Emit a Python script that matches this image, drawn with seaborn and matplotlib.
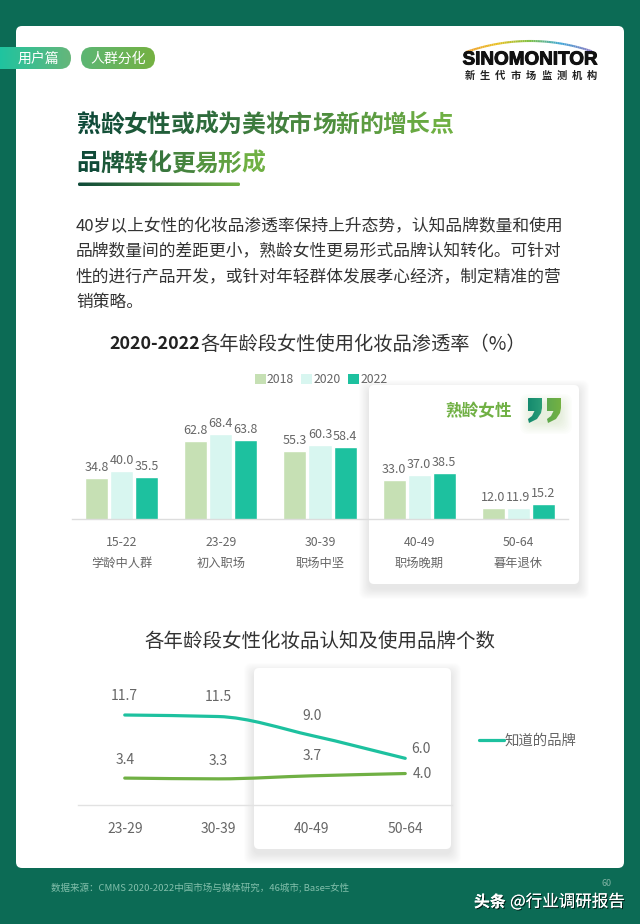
import numpy as np
import pandas as pd
import matplotlib
matplotlib.use('Agg')
import matplotlib.pyplot as plt
import matplotlib.patheffects as pe
import seaborn as sns
from matplotlib.colors import LinearSegmentedColormap, to_rgb
from matplotlib.lines import Line2D
from matplotlib.patches import FancyBboxPatch, PathPatch, Polygon
from matplotlib.path import Path

# bar chart data
barAges = ['15-22', '23-29', '30-39', '40-49', '50-64']
barStages = ['学龄中人群', '初入职场', '职场中坚', '职场晚期', '暮年退休']
years = ['2018', '2020', '2022']
rate2018 = [34.8, 62.8, 55.3, 33.0, 12.0]
rate2020 = [40.0, 68.4, 60.3, 37.0, 11.9]
rate2022 = [35.5, 63.8, 58.4, 38.5, 15.2]

# line chart data
lineAges = ['23-29', '30-39', '40-49', '50-64']
knownBrands = [11.7, 11.5, 9.0, 6.0]
usedBrands = [3.4, 3.3, 3.7, 4.0]

titleLines = ['熟龄女性或成为美妆市场新的增长点', '品牌转化更易形成']
bodyLines = [
    '40岁以上女性的化妆品渗透率保持上升态势，认知品牌数量和使用',
    '品牌数量间的差距更小，熟龄女性更易形式品牌认知转化。可针对',
    '性的进行产品开发，或针对年轻群体发展孝心经济，制定精准的营',
    '销策略。',
]

GREEN_BG = '#0c6b55'
TEAL = '#1dc19f'
GREEN = '#70b044'
GRAY = '#666666'
W, H = 640, 924

sns.set_theme(style='white')
plt.rcParams['font.family'] = ['Noto Sans CJK SC', 'DejaVu Sans']

fig = plt.figure(figsize=(6.4, 9.24), dpi=100, facecolor=GREEN_BG)

# full page axes in pixel coordinates, for the page furniture
bg = fig.add_axes([0, 0, 1, 1], zorder=0)
bg.set_xlim(0, W)
bg.set_ylim(H, 0)
bg.axis('off')


def rounded(x0, y0, x1, y1, radius, **kw):
    return FancyBboxPatch((x0 + radius, y0 + radius), x1 - x0 - 2 * radius, y1 - y0 - 2 * radius,
                          boxstyle=f'round,pad={radius},rounding_size={radius}', **kw)


def gradient_fill(patch, c1, c2, extent, zorder=3):
    cmap = LinearSegmentedColormap.from_list('g', [c1, c2])
    bg.add_patch(patch)
    patch.set_facecolor('none')
    patch.set_edgecolor('none')
    im = bg.imshow(np.linspace(0, 1, 128).reshape(1, -1), cmap=cmap, extent=extent,
                   aspect='auto', zorder=zorder)
    im.set_clip_path(patch)
    bg.set_xlim(0, W)
    bg.set_ylim(H, 0)


def shadow_panel(x0, y0, x1, y1):
    for i in range(12):
        grow = 10 - i * 0.85
        bg.add_patch(rounded(x0 - grow, y0 - grow + 5, x1 + grow, y1 + grow + 5, 7,
                             fc='black', ec='none', alpha=0.009, zorder=1))
    bg.add_patch(rounded(x0, y0, x1, y1, 5, fc='white', ec='none', zorder=1.5))


def mix(c1, c2, t):
    a, b = np.array(to_rgb(c1)), np.array(to_rgb(c2))
    return tuple(a + (b - a) * t)


def soft_tangents(xy):
    # slope at each point, flat where the neighbouring segments disagree
    d = np.diff(xy[:, 1]) / np.diff(xy[:, 0])
    m = [d[0]]
    for a, b in zip(d[:-1], d[1:]):
        m.append(0 if a * b <= 0 else 2 * a * b / (a + b))
    m.append(d[-1])
    return m


# white card
bg.add_patch(rounded(16, 26, 624, 868, 6, fc='white', ec='none', zorder=0.5))

# section tags
gradient_fill(rounded(-20, 47, 71, 69, 11), '#1fc4a0', '#66b67a', (0, 71, 69, 47))
gradient_fill(rounded(81, 47, 155, 69, 11), '#5cb674', '#75b142', (81, 155, 69, 47))
bg.text(38, 58.5, '用户篇', color='white', fontsize=10, ha='center', va='center', zorder=4)
bg.text(118, 58.5, '人群分化', color='white', fontsize=10, ha='center', va='center', zorder=4)

# logo
arcX = np.linspace(466, 592, 70)
arcY = 41 + 11 * ((arcX - 530) / 64) ** 2
arcCmap = LinearSegmentedColormap.from_list('arc', ['#f0a030', '#e8c020', '#80c040', '#40a8d8', '#8878c0'])
for i in range(len(arcX) - 1):
    bg.plot(arcX[i:i + 2], arcY[i:i + 2], color=arcCmap(i / 68), lw=1.5, solid_capstyle='butt', zorder=3)
logoText = bg.text(530, 60, 'SINOMONITOR', color='#111111', fontsize=13.6, fontweight='bold', ha='center',
                   va='center', family=['Liberation Sans', 'DejaVu Sans'])
logoText.set_path_effects([pe.withStroke(linewidth=0.7, foreground='#111111')])
for i, ch in enumerate('新生代市场监测机构'):
    bg.text(470 + i * 15.25, 76, ch, color='#222222', fontsize=7.4, fontweight='bold', ha='center', va='center')

# gradient headline, one colour per character
for lineNo, line in enumerate(titleLines):
    n = len(line)
    for i, ch in enumerate(line):
        bg.text(76.5 + 23.55 * i, 124.5 + 39 * lineNo, ch, fontsize=17.2, fontweight='bold', ha='left', va='center',
                color=mix('#0f4a38', '#6fb043', i / max(n - 1, 7)), zorder=4)
gradient_fill(rounded(78, 182.5, 240, 186, 1.5), '#0f4a38', '#70b044', (78, 240, 186, 182))

for i, line in enumerate(bodyLines):
    bg.text(76, 227 + 25 * i, line, fontsize=12.05, color='#333333', ha='left', va='center')

# chart titles
bg.text(200, 344, '2020-2022', fontsize=12.9, fontweight='bold', color='#222222', ha='right', va='center')
bg.text(200, 344, '各年龄段女性使用化妆品渗透率（%）', fontsize=13.85, color='#333333', ha='left', va='center')
bg.text(320, 641, '各年龄段女性化妆品认知及使用品牌个数', fontsize=14, color='#333333', ha='center', va='center')

# highlight panels
shadow_panel(369, 385, 579, 584)
shadow_panel(254, 668, 451, 849)
bg.text(479, 411, '熟龄女性', fontsize=12, fontweight='bold', color=GREEN, ha='center', va='center', zorder=4)

# quote marks
for i in range(8):
    grow = 12 - i * 1.4
    bg.add_patch(rounded(532 - grow, 404 - grow + 2, 560 + grow, 420 + grow + 2, 8,
                         fc=GREEN, ec='none', alpha=0.02, zorder=2))
for x0, c1, c2 in [(528, '#148a6e', '#2a9d78'), (547, '#5fa94e', '#74b142')]:
    pts = [(x0, 398), (x0 + 14, 398), (x0 + 14, 408), (x0 + 13, 413), (x0 + 9, 419), (x0 + 1, 423), (x0, 419),
           (x0 + 4, 416), (x0 + 6.5, 411), (x0, 411)]
    gradient_fill(Polygon(pts, closed=True), c1, c2, (x0, x0 + 14, 423, 398))

# footer
bg.text(51, 888, '数据来源：CMMS 2020-2022中国市场与媒体研究，46城市; Base=女性', fontsize=6.85,
        color='#82bfab', ha='left', va='center')
bg.text(607, 883, '60', fontsize=6.5, color='#7fb3a3', ha='center', va='center')
markShadow = [pe.withSimplePatchShadow(offset=(0.8, -0.8), shadow_rgbFace='black', alpha=0.7), pe.Normal()]
bg.text(474, 902, '头条', fontsize=11.4, fontweight='bold', color='white', ha='left', va='center', zorder=4,
        path_effects=markShadow)
bg.text(510, 902, '@行业调研报告', fontsize=11.9, color='white', ha='left', va='center', zorder=4,
        path_effects=markShadow)


def axes_px(x0, y0, x1, y1):
    return fig.add_axes([x0 / W, 1 - y1 / H, (x1 - x0) / W, (y1 - y0) / H], zorder=2, facecolor='none')


# bar chart
dfBar = pd.DataFrame({'age': barAges, '2018': rate2018, '2020': rate2020, '2022': rate2022})
dfBar = dfBar.melt(id_vars='age', var_name='year', value_name='rate')

ax1 = axes_px(72, 389, 568, 519)
sns.barplot(data=dfBar, x='age', y='rate', hue='year', hue_order=years, ax=ax1, width=0.757, gap=0.08,
            palette=['#c6e0b4', '#d8f6f0', TEAL], saturation=1, legend=False)
ax1.set_xlim(-0.5, 4.5)
ax1.set_ylim(3.6, 102.8)
ax1.set_xlabel('')
ax1.set_ylabel('')
ax1.set_yticks([])
ax1.set_xticks(range(len(barAges)))
ax1.set_xticklabels([f'{a}\n{s}' for a, s in zip(barAges, barStages)], fontsize=8.8, color=GRAY, linespacing=1.85)
ax1.tick_params(axis='x', length=0, pad=12)
sns.despine(ax=ax1, left=True)
ax1.spines['bottom'].set_color('#dddddd')
ax1.spines['bottom'].set_linewidth(1)
for cont in ax1.containers:
    ax1.bar_label(cont, fmt='%.1f', fontsize=9, color=GRAY, padding=3)

barHandles = [plt.Rectangle((0, 0), 1, 1, fc=c, ec='none') for c in ['#c6e0b4', '#d8f6f0', TEAL]]
fig.legend(barHandles, years, loc='center', bbox_to_anchor=(321 / W, 1 - 379.5 / H), ncol=3, frameon=False,
           fontsize=8.8, labelcolor=GRAY, handlelength=0.9, handleheight=0.9, handletextpad=0.1,
           columnspacing=0.6, borderpad=0)

# line chart
dfLine = pd.DataFrame({'age': lineAges, '知道的品牌': knownBrands, '使用的品牌': usedBrands})
dfLine = dfLine.melt(id_vars='age', var_name='kind', value_name='count')

ax2 = axes_px(78, 690, 452, 805)
sns.lineplot(data=dfLine, x='age', y='count', hue='kind', hue_order=['知道的品牌', '使用的品牌'], ax=ax2,
             palette=[TEAL, GREEN], sort=False, errorbar=None, legend=False, lw=2.3)
ax2.set_xlim(-0.5, 3.5)
ax2.set_ylim(-0.14, 14.99)
ax2.set_xlabel('')
ax2.set_ylabel('')
ax2.set_yticks([])
ax2.set_xticks(range(len(lineAges)))
ax2.set_xticklabels(lineAges, fontsize=10, color=GRAY)
ax2.tick_params(axis='x', length=0, pad=12)
sns.despine(ax=ax2, left=True)
ax2.spines['bottom'].set_color('#e2e2e2')
ax2.spines['bottom'].set_linewidth(1)

# round the seaborn lines off with a curve through the same points
for line in list(ax2.lines):
    xy = line.get_xydata()
    m = soft_tangents(xy)
    verts = [xy[0]]
    codes = [Path.MOVETO]
    for i in range(len(xy) - 1):
        verts += [xy[i] + np.array([1 / 3, m[i] / 3]), xy[i + 1] - np.array([1 / 3, m[i + 1] / 3]), xy[i + 1]]
        codes += [Path.CURVE4] * 3
    ax2.add_patch(PathPatch(Path(verts, codes), fc='none', ec=line.get_color(), lw=2.3, capstyle='round'))
    line.set_visible(False)

knownOffsets = [(0, 14), (0, 14), (0, 14), (11, 7)]
usedOffsets = [(0, 13), (0, 13), (0, 14), (12, 0)]
for i in range(len(lineAges)):
    ax2.annotate(f'{knownBrands[i]:.1f}', (i, knownBrands[i]), xytext=knownOffsets[i], textcoords='offset points',
                 ha='center', va='center', fontsize=10, color=GRAY)
    ax2.annotate(f'{usedBrands[i]:.1f}', (i, usedBrands[i]), xytext=usedOffsets[i], textcoords='offset points',
                 ha='center', va='center', fontsize=10, color=GRAY)

fig.legend([Line2D([0], [0], color=TEAL, lw=2.3)], ['知道的品牌'], loc='center left',
           bbox_to_anchor=(479 / W, 1 - 741 / H), frameon=False, fontsize=10.4, labelcolor=GRAY,
           handlelength=1.75, handletextpad=0.05, borderpad=0, borderaxespad=0)

fig.savefig('out.png', dpi=100, facecolor=fig.get_facecolor())
